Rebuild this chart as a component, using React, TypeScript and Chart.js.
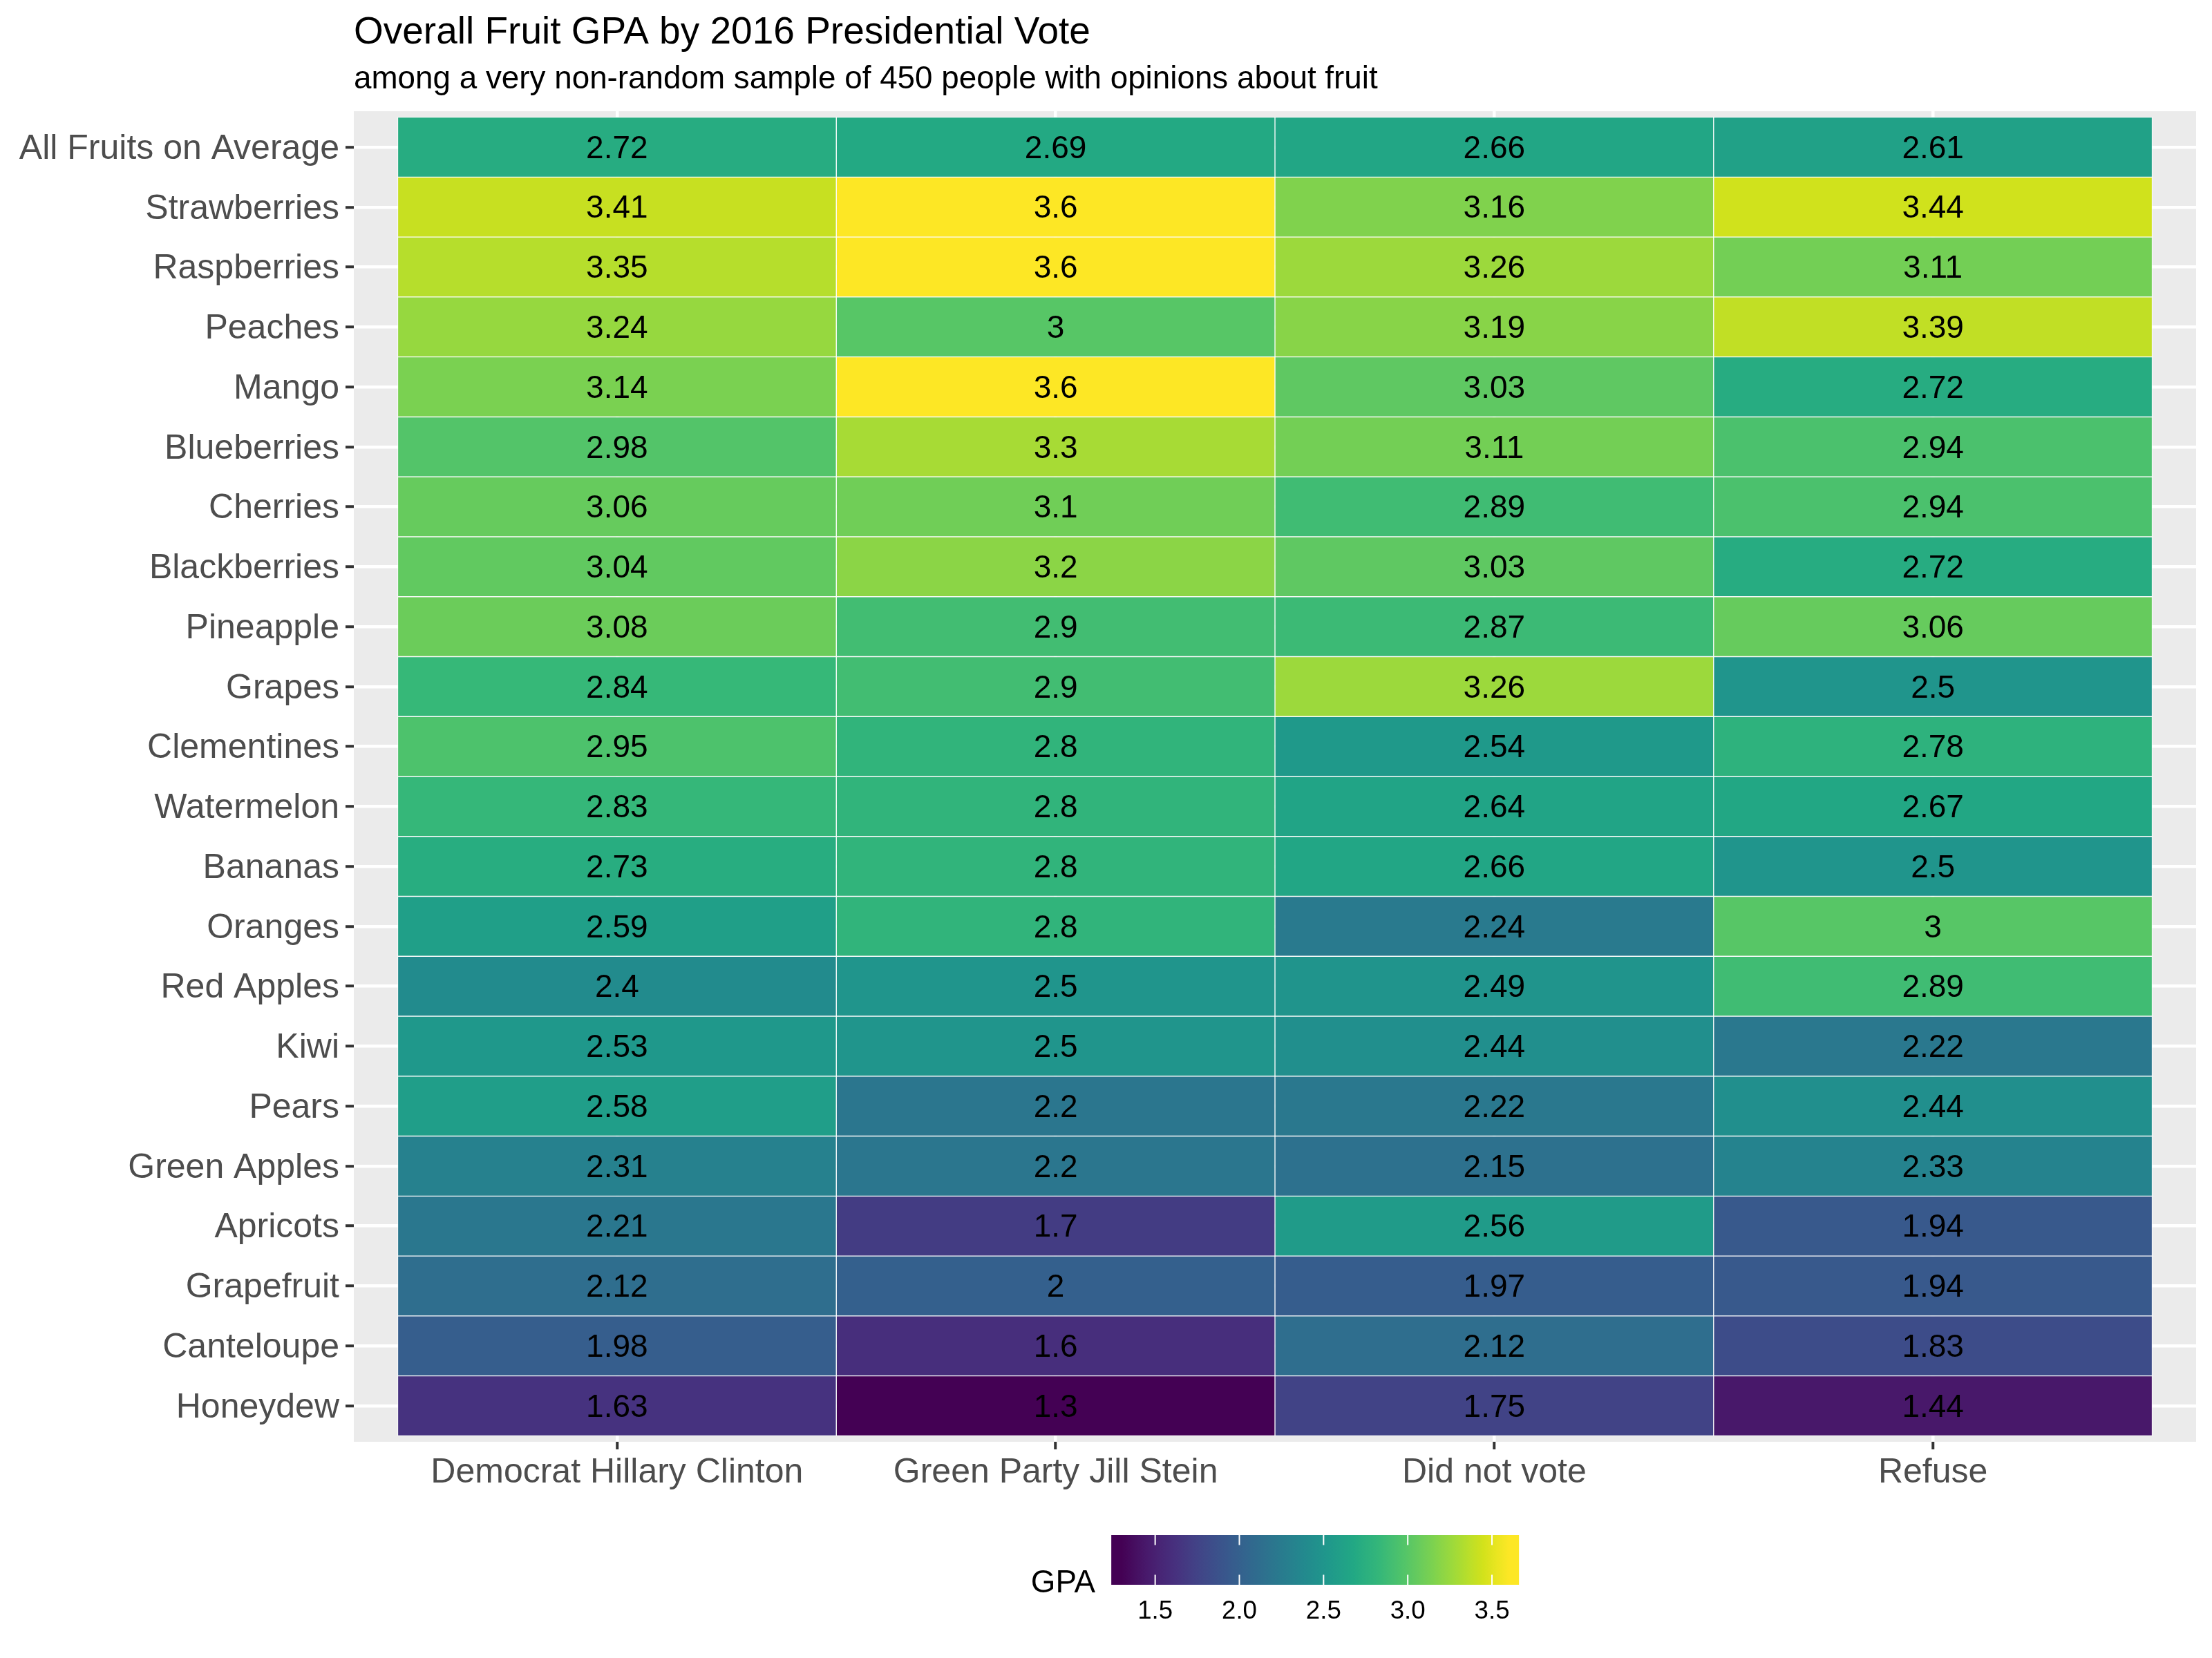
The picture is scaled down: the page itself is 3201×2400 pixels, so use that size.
import React, { useEffect, useRef } from 'react';
import { Chart, registerables } from 'chart.js';

Chart.register(...registerables);

// ---------------- data ----------------
const titleText = 'Overall Fruit GPA by 2016 Presidential Vote';
const subtitleText = 'among a very non-random sample of 450 people with opinions about fruit';

const fruits = [
  'All Fruits on Average', 'Strawberries', 'Raspberries', 'Peaches', 'Mango', 'Blueberries',
  'Cherries', 'Blackberries', 'Pineapple', 'Grapes', 'Clementines', 'Watermelon', 'Bananas',
  'Oranges', 'Red Apples', 'Kiwi', 'Pears', 'Green Apples', 'Apricots', 'Grapefruit',
  'Canteloupe', 'Honeydew',
];

const columns = ['Democrat Hillary Clinton', 'Green Party Jill Stein', 'Did not vote', 'Refuse'];

const democrat = [2.72, 3.41, 3.35, 3.24, 3.14, 2.98, 3.06, 3.04, 3.08, 2.84, 2.95, 2.83, 2.73, 2.59, 2.4, 2.53, 2.58, 2.31, 2.21, 2.12, 1.98, 1.63];
const greenParty = [2.69, 3.6, 3.6, 3, 3.6, 3.3, 3.1, 3.2, 2.9, 2.9, 2.8, 2.8, 2.8, 2.8, 2.5, 2.5, 2.2, 2.2, 1.7, 2, 1.6, 1.3];
const didNotVote = [2.66, 3.16, 3.26, 3.19, 3.03, 3.11, 2.89, 3.03, 2.87, 3.26, 2.54, 2.64, 2.66, 2.24, 2.49, 2.44, 2.22, 2.15, 2.56, 1.97, 2.12, 1.75];
const refuse = [2.61, 3.44, 3.11, 3.39, 2.72, 2.94, 2.94, 2.72, 3.06, 2.5, 2.78, 2.67, 2.5, 3, 2.89, 2.22, 2.44, 2.33, 1.94, 1.94, 1.83, 1.44];

const legendTitle = 'GPA';
const legendTicks = [1.5, 2.0, 2.5, 3.0, 3.5];

const seriesByColumn = [democrat, greenParty, didNotVote, refuse];
const allValues = seriesByColumn.flat();
const vMin = Math.min(...allValues);
const vMax = Math.max(...allValues);

// ---------------- colour (viridis colour map) ----------------
const viridisStops = [
  '#440154', '#481A6C', '#472F7D', '#414487', '#39568C', '#31688E', '#2A788E', '#23888E',
  '#1F988B', '#22A884', '#35B779', '#54C568', '#7AD151', '#A5DB36', '#D2E21B', '#FDE725',
];
const rgbStops = viridisStops.map((h) => {
  const n = parseInt(h.slice(1), 16);
  return [(n >> 16) & 255, (n >> 8) & 255, n & 255];
});

function colorAtT(t: number) {
  t = Math.max(0, Math.min(1, t));
  const seg = t * (rgbStops.length - 1);
  const i = Math.min(rgbStops.length - 2, Math.floor(seg));
  const u = seg - i;
  const a = rgbStops[i], b = rgbStops[i + 1];
  const c = [0, 1, 2].map((k) => Math.round(a[k] + (b[k] - a[k]) * u));
  return `rgb(${c[0]},${c[1]},${c[2]})`;
}
function colorFor(v: number) {
  return colorAtT((v - vMin) / (vMax - vMin));
}

// ---------------- styling ----------------
const FONT = "'Liberation Sans', Arial, Helvetica, sans-serif";

const cellLabels = {
  id: 'cellLabels',
  afterDatasetsDraw(chart: any) {
    const ctx = chart.ctx;
    ctx.save();
    ctx.font = `46px ${FONT}`;
    ctx.fillStyle = '#000000';
    ctx.textAlign = 'center';
    ctx.textBaseline = 'middle';
    chart.data.datasets.forEach((_: any, c: number) => {
      const meta = chart.getDatasetMeta(c);
      meta.data.forEach((el: any, r: number) => {
        const p = el.getCenterPoint();
        ctx.fillText(String(seriesByColumn[c][r]), p.x, p.y + 3);
      });
    });
    ctx.restore();
  },
};

const panelBg = {
  id: 'panelBg',
  beforeDraw(chart: any) {
    const { ctx, chartArea: ca } = chart;
    ctx.save();
    ctx.fillStyle = '#FFFFFF';
    ctx.fillRect(0, 0, chart.width, chart.height);
    ctx.fillStyle = '#EBEBEB';
    ctx.fillRect(ca.left, ca.top, ca.right - ca.left, ca.bottom - ca.top);
    ctx.restore();
  },
};

const titlesAndLegend = {
  id: 'titlesAndLegend',
  afterDraw(chart: any) {
    const { ctx, chartArea: ca } = chart;
    ctx.save();
    // titles
    ctx.fillStyle = '#000000';
    ctx.textAlign = 'left';
    ctx.textBaseline = 'alphabetic';
    ctx.font = `55px ${FONT}`;
    ctx.fillText(titleText, ca.left, 63);
    ctx.font = `45.8px ${FONT}`;
    ctx.fillText(subtitleText, ca.left, 128);

    // colour bar legend
    const cx = (ca.left + ca.right) / 2;
    ctx.font = `45.8px ${FONT}`;
    const tw = ctx.measureText(legendTitle).width;
    const barW = 590, barH = 72, gap = 23;
    const total = tw + gap + barW;
    const left = cx - total / 2;
    const barLeft = left + tw + gap;
    const barTop = ca.bottom + 135;
    ctx.fillText(legendTitle, left, ca.bottom + 218);

    const grad = ctx.createLinearGradient(barLeft, 0, barLeft + barW, 0);
    grad.addColorStop(0, colorAtT(0));
    const n = 60;
    for (let i = 0; i <= n; i++) {
      const t = i / n;
      grad.addColorStop(0.025 + 0.95 * t, colorAtT(t));
    }
    grad.addColorStop(1, colorAtT(1));
    ctx.fillStyle = grad;
    ctx.fillRect(barLeft, barTop, barW, barH);

    ctx.strokeStyle = '#FFFFFF';
    ctx.lineWidth = 2;
    ctx.fillStyle = '#000000';
    ctx.font = `36.7px ${FONT}`;
    ctx.textAlign = 'center';
    legendTicks.forEach((v) => {
      const px = barLeft + barW * (0.025 + 0.95 * (v - vMin) / (vMax - vMin));
      ctx.beginPath();
      ctx.moveTo(px, barTop);
      ctx.lineTo(px, barTop + barH / 5);
      ctx.moveTo(px, barTop + barH);
      ctx.lineTo(px, barTop + barH - barH / 5);
      ctx.stroke();
      ctx.fillText(v.toFixed(1), px, ca.bottom + 256);
    });
    ctx.restore();
  },
};

export default function App() {
  const ref = useRef<HTMLCanvasElement | null>(null);

  useEffect(() => {
    if (!ref.current) return;
    const chart = new Chart(ref.current, {
      type: 'bar',
      data: {
        datasets: columns.map((name, c) => ({
          label: name,
          data: fruits.map((_, r) => ({ x: 1, y: r })),
          backgroundColor: seriesByColumn[c].map(colorFor),
          borderColor: 'rgba(255,255,255,0.85)',
          borderWidth: 1,
          borderSkipped: false,
          barPercentage: 1,
          categoryPercentage: 1,
        })),
      },
      options: {
        indexAxis: 'y',
        animation: false,
        responsive: false,
        devicePixelRatio: 1,
        layout: { padding: { left: 0, right: 23, top: 161, bottom: 213 } },
        plugins: {
          legend: { display: false },
          tooltip: { enabled: false },
          title: { display: false },
        },
        scales: {
          x: {
            type: 'linear',
            stacked: true,
            offset: false,
            min: -0.1,
            max: columns.length + 0.1,
            afterBuildTicks: (scale: any) => {
              scale.ticks = columns.map((_, i) => ({ value: i + 0.5 }));
            },
            afterFit: (scale: any) => { scale.height = 100; },
            border: { display: false },
            grid: {
              offset: false,
              color: '#FFFFFF',
              lineWidth: 4.5,
              tickColor: '#333333',
              tickWidth: 4,
              tickLength: 11,
            },
            ticks: {
              autoSkip: false,
              maxRotation: 0,
              padding: 4,
              color: '#4D4D4D',
              font: { family: FONT, size: 50 },
              callback: (value: any) => columns[Math.round(Number(value) - 0.5)] ?? '',
            },
          },
          y: {
            type: 'linear',
            stacked: true,
            reverse: true,
            offset: false,
            min: -0.6,
            max: fruits.length - 0.4,
            afterBuildTicks: (scale: any) => {
              scale.ticks = fruits.map((_, i) => ({ value: i }));
            },
            afterFit: (scale: any) => { scale.width = 512; },
            border: { display: false },
            grid: {
              offset: false,
              color: '#FFFFFF',
              lineWidth: 4.5,
              tickColor: '#333333',
              tickWidth: 4,
              tickLength: 12,
            },
            ticks: {
              autoSkip: false,
              padding: 9,
              labelOffset: 3,
              color: '#4D4D4D',
              font: { family: FONT, size: 50 },
              callback: (value: any) => fruits[Math.round(Number(value))] ?? '',
            },
          },
        },
      },
      plugins: [panelBg, cellLabels, titlesAndLegend],
    } as any);
    return () => chart.destroy();
  }, []);

  return (
    <div style={{ position: 'absolute', left: 0, top: 0, width: 3201, height: 2400, background: '#FFFFFF' }}>
      <canvas ref={ref} width={3201} height={2400} style={{ width: 3201, height: 2400, display: 'block' }} />
    </div>
  );
}
